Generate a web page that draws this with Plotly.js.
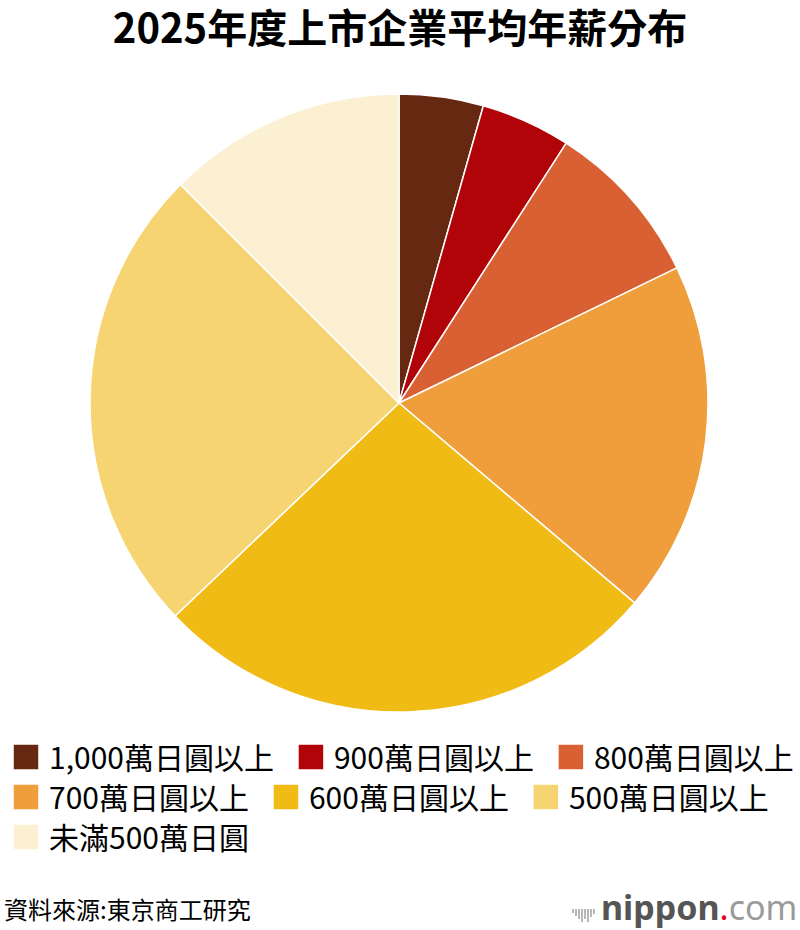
<!DOCTYPE html>
<html>
<head>
<meta charset="utf-8">
<script src="https://cdn.plot.ly/plotly-3.0.1.min.js"></script>
<style>
html,body{margin:0;padding:0;background:#fff;}
#chart{width:800px;height:930px;}
</style>
</head>
<body>
<div id="chart"></div>
<script>
const categories = ["1,000萬日圓以上","900萬日圓以上","800萬日圓以上","700萬日圓以上","600萬日圓以上","500萬日圓以上","未滿500萬日圓"];
const shares = [4.4, 4.7, 8.7, 18.4, 26.7, 24.6, 12.5];
const colors = ["#662811","#b00408","#d96033","#f09e3b","#f1bb16","#f6d471","#fcf0d2"];
const titleText = "2025年度上市企業平均年薪分布";
const sourceText = "資料來源:東京商工研究";

const FONT = '"Noto Sans CJK TC", "Noto Sans CJK JP", "Noto Sans", sans-serif';

const trace = {
  type: "pie",
  labels: categories,
  values: shares,
  sort: false,
  direction: "clockwise",
  rotation: 0,
  marker: {colors: colors, line: {color: "#ffffff", width: 1.5}},
  textinfo: "none",
  hoverinfo: "label+percent",
  domain: {x: [90/800, 708/800], y: [1 - 712/930, 1 - 94/930]}
};

const bars = [[573,10],[576,16],[579,22],[582,28],[585,22],[588,28],[591,18],[594,12]];
const shapes = bars.map(b => ({
  type: "line", xref: "paper", yref: "paper",
  x0: b[0]/800, x1: b[0]/800,
  y0: 1 - (908 + b[1]/2)/930, y1: 1 - (908 - b[1]/2)/930,
  line: {color: "#b8b8b8", width: 2}
}));

const layout = {
  width: 800, height: 930,
  margin: {l: 0, r: 0, t: 0, b: 0},
  paper_bgcolor: "#ffffff",
  showlegend: true,
  title: {
    text: "<b>" + titleText + "</b>",
    x: 0.5, xanchor: "center", xref: "paper",
    y: 1 - 29/930, yanchor: "middle", yref: "paper",
    font: {family: FONT, size: 40, color: "#000000"}
  },
  legend: {
    orientation: "h",
    x: 0.005, xanchor: "left",
    y: 1 - 731/930, yanchor: "top",
    font: {family: FONT, size: 30, color: "#000000"},
    traceorder: "normal",
    itemwidth: 36
  },
  shapes: shapes,
  annotations: [
    {
      text: sourceText, xref: "paper", yref: "paper",
      x: 2/800, y: 1 - 908/930, xanchor: "left", yanchor: "middle",
      showarrow: false, font: {family: FONT, size: 24, color: "#000000"}
    },
    {
      text: '<b><span style="color:#555555">nippon</span></b><span style="color:#e60012">.</span><span style="color:#9a9a9a">com</span>',
      xref: "paper", yref: "paper",
      x: 799/800, y: 1 - 907/930, xanchor: "right", yanchor: "middle",
      showarrow: false, font: {family: '"Noto Sans", "Open Sans", sans-serif', size: 34, color: "#555555"}
    }
  ]
};

function parseT(g){
  const m = /translate\(\s*([-\d.]+)[ ,]+([-\d.]+)\s*\)/.exec(g.getAttribute("transform") || "");
  return m ? [parseFloat(m[1]), parseFloat(m[2])] : [0, 0];
}

Plotly.newPlot("chart", [trace], layout, {displayModeBar: false, staticPlot: true}).then(function(gd){
  gd.querySelectorAll(".legendpoints path").forEach(function(p){
    p.setAttribute("d", "M13,13H-13V-13H13Z");
  });
  const leg = gd.querySelector(".legend");
  if (!leg) return;
  leg.querySelectorAll("[clip-path]").forEach(function(el){ el.removeAttribute("clip-path"); });
  leg.removeAttribute("clip-path");
  const items = Array.from(leg.querySelectorAll(".traces"));
  if (!items.length) return;
  const firstT = parseT(items[0]);
  const startX = 13, gap = 24, rowH = 40, maxX = 798;
  let curX = startX, row = 0;
  items.forEach(function(g, i){
    const t = parseT(g);
    const sq = g.querySelector(".legendpoints path").getBoundingClientRect();
    const tx = g.querySelector("text.legendtext").getBoundingClientRect();
    const textOff = tx.left - sq.left;
    const textW = tx.width;
    if (i > 0 && curX + textOff + textW > maxX) { row += 1; curX = startX; }
    const nx = t[0] + (curX - sq.left);
    const ny = firstT[1] + row * rowH;
    g.setAttribute("transform", "translate(" + nx + "," + ny + ")");
    curX = curX + textOff + textW + gap;
  });
  const bg = leg.querySelector("rect.bg");
  if (bg) bg.setAttribute("width", 800);
});
</script>
</body>
</html>
